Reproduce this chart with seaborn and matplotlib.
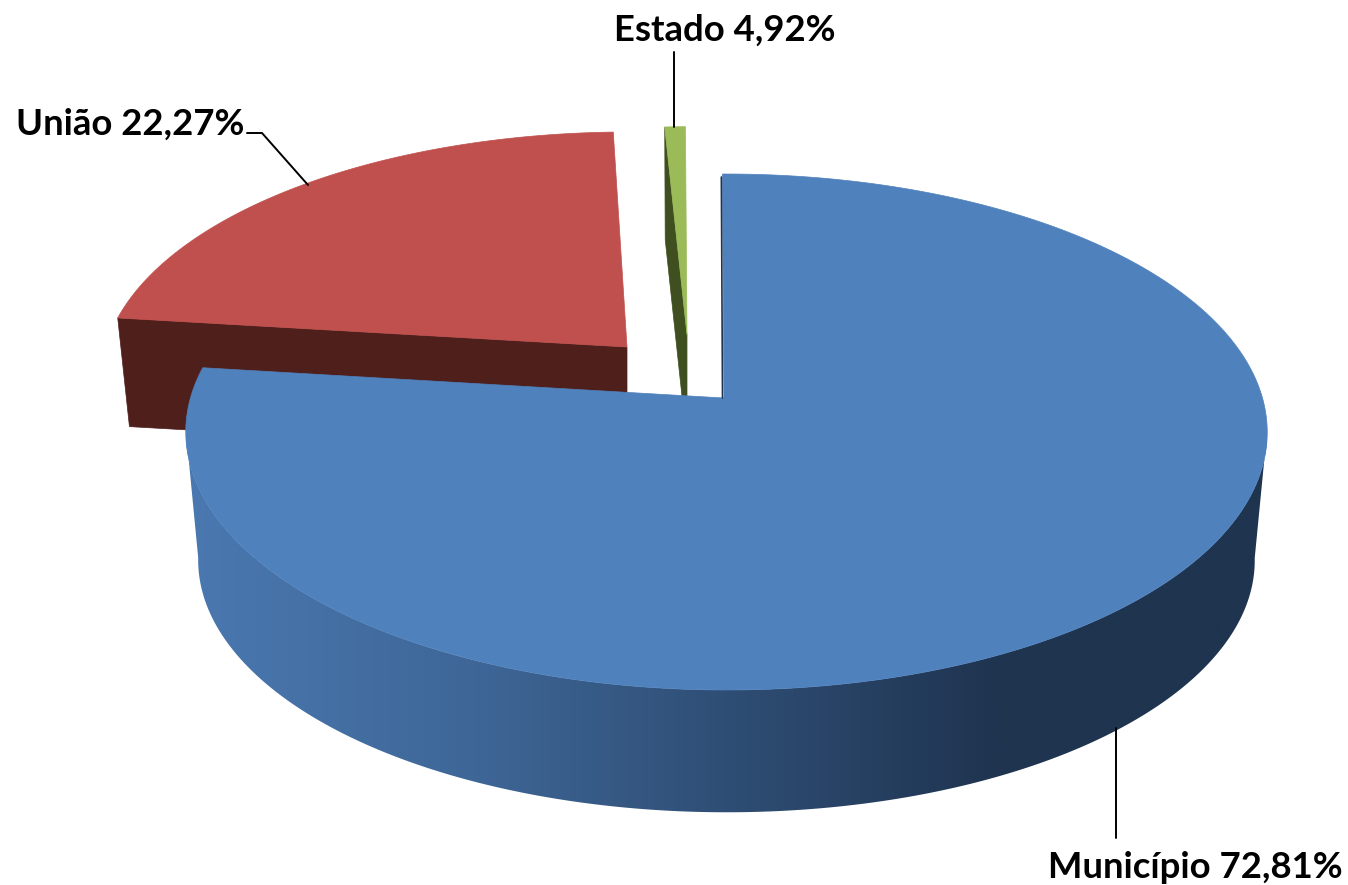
import numpy as np
import matplotlib
matplotlib.use('Agg')
import matplotlib.pyplot as plt
from matplotlib.patches import Polygon
import seaborn as sns

# what the labels say
names = ['Município', 'União', 'Estado']
label_pct = [72.81, 22.27, 4.92]

# share of the circle each slice really covers in the picture
drawn_share = [77.0, 22.25, 0.75]

top_colors = ['#4F81BD', '#C0504D', '#9BBB59']
wall_colors = ['#1E344F', '#4F1F1C', '#3F4F20']
side_ramp = ['#4A78B0', '#3F6899', '#2F4E75', '#1F3450', '#1E344F']

# exploded slices: apex in pixels, size factors, height, small trim on the end angle
apex_x = [724, 627, 687]
apex_y = [398, 347, 335]
scale_x = [1.0, 0.977, 0.93]
scale_y = [1.0, 0.96, 0.93]
slice_depth = [129, 108, 108]
end_trim = [0.0, 1.2, 0.0]

START_ANGLE = -0.2
RX, RY = 536, 253.5
TILT_V, TILT_U = 0.1318, -0.0046
LOWER_SCALE = 0.977


def rim(theta, cx, cy, sx, sy):
    # perspective view of a circle, theta in degrees clockwise from the top
    u = np.sin(np.radians(theta))
    v = np.cos(np.radians(theta))
    w = 1 + TILT_V * v + TILT_U * u
    return cx + RX * sx * u / w, cy - RY * sy * v / w


sns.set_theme(style='white')
plt.rcParams['font.family'] = ['Lato', 'DejaVu Sans']

fig = plt.figure(figsize=(13.48, 8.85), dpi=100, facecolor='white')
ax = fig.add_axes([0, 0, 1, 1])
ax.axis('off')

ends = np.cumsum(drawn_share) / 100 * 360 + START_ANGLE
starts = ends - np.array(drawn_share) / 100 * 360
ramp = np.array(sns.blend_palette(side_ramp, n_colors=256))[np.newaxis, :, :]

# back slices first, the big one goes over them
for i in [1, 2, 0]:
    t0, t1 = starts[i], ends[i] + end_trim[i]
    cx, cy, d = apex_x[i], apex_y[i], slice_depth[i]
    angles = np.linspace(t0, t1, max(int((t1 - t0) * 2), 8))
    x_top, y_top = rim(angles, cx, cy, scale_x[i], scale_y[i])
    x_low, y_low = rim(angles, cx, cy + d, scale_x[i] * LOWER_SCALE, scale_y[i] * LOWER_SCALE)

    if i == 0:
        # curved side of the big slice, only the part facing the viewer, shaded left to right
        front = (angles > 97) & (angles < 263)
        wall = Polygon(np.c_[np.r_[x_top[front], x_low[front][::-1]],
                             np.r_[y_top[front], y_low[front][::-1]]],
                       transform=ax.transData)
        img = ax.imshow(ramp, extent=(186, 1267, 885, 0), aspect='auto', interpolation='bilinear')
        img.set_clip_path(wall)
        # thin dark edge seen in the gap
        ax.plot([x_top[0] - 1, cx - 1.5], [y_top[0] + 3, cy], color=wall_colors[0], lw=1.2)
    else:
        # cut face looking at the viewer
        ax.fill([x_top[0], cx, cx, x_low[0]], [y_top[0], cy, cy + d, y_low[0]],
                color=wall_colors[i], lw=0.5)

    ax.fill(np.r_[cx, x_top], np.r_[cy, y_top], color=top_colors[i], lw=0.5)

# leader lines
ax.plot([1116, 1116], [728, 838], color='black', lw=1.4)
ax.plot([247, 262, 308], [133, 133, 185], color='black', lw=1.4)
ax.plot([674, 674], [52, 127], color='black', lw=1.4)

label_x = [1343, 244, 836]
label_y = [868, 124, 30]
for i in range(3):
    txt = f'{names[i]} {label_pct[i]:.2f}%'.replace('.', ',')
    ax.text(label_x[i], label_y[i], txt, ha='right', va='center',
            fontsize=26.3, fontweight='bold', color='black')

ax.set_xlim(0, 1348)
ax.set_ylim(885, 0)

fig.savefig('out.png', dpi=100, facecolor='white')
